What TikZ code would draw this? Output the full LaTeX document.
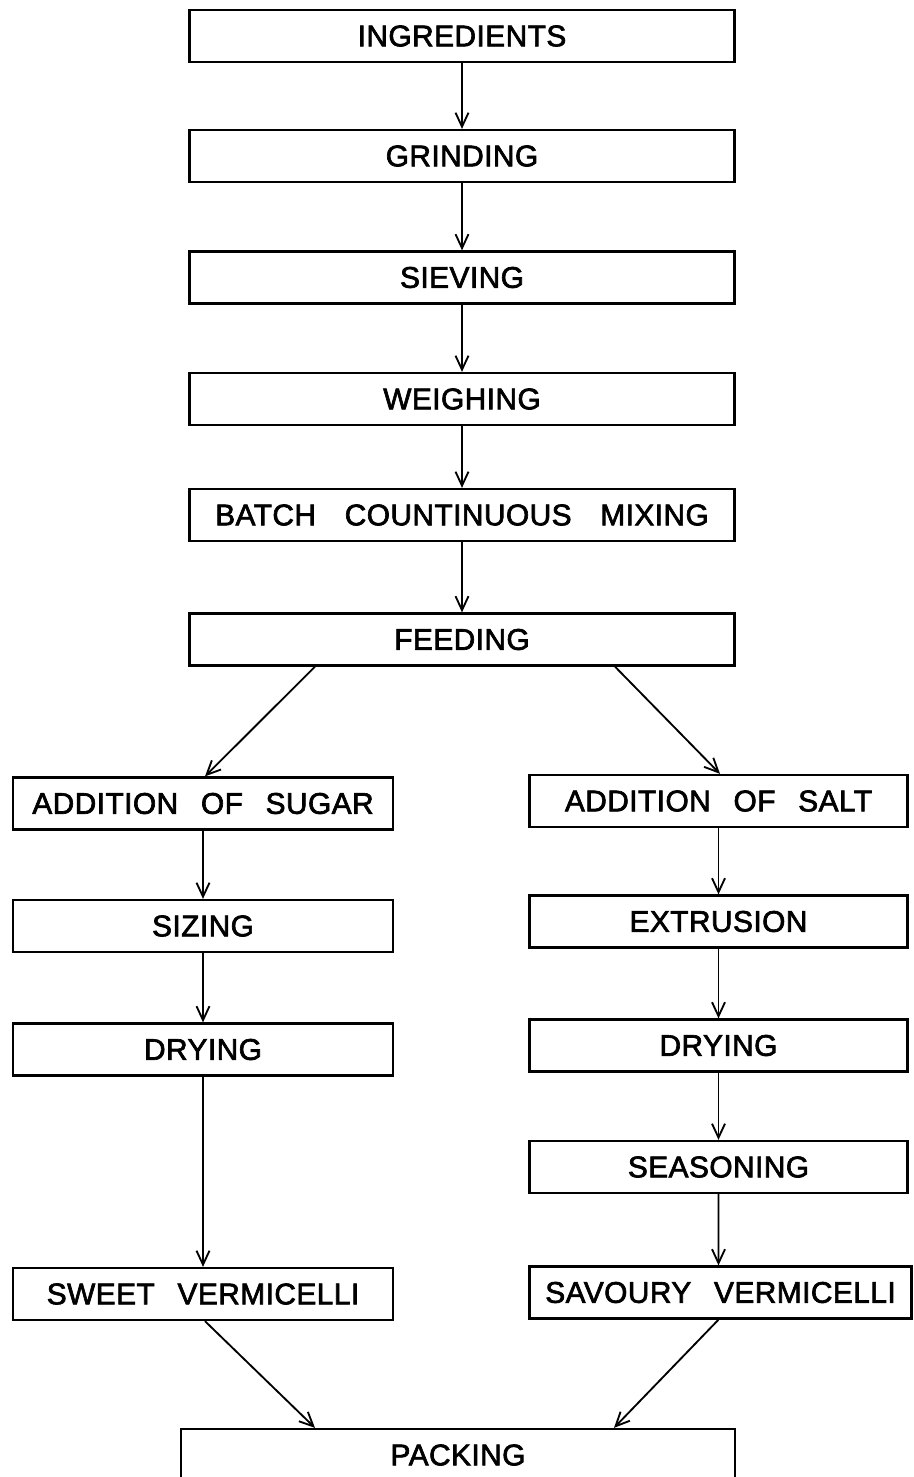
\documentclass[tikz,border=0pt]{standalone}
\usepackage{fontspec}
\setmainfont{Liberation Sans}[WordSpace=2.6,FakeBold=2.2,LetterSpace=1.5]
\usetikzlibrary{arrows.meta}
\tikzset{
  stage/.style={draw,line width=1.3pt,minimum height=1.04cm,inner sep=0pt,font=\fontsize{17}{20}\selectfont},
  wide/.style={stage,minimum width=10.9cm},
  half/.style={stage,minimum width=7.56cm},
  flow/.style={-{Straight Barb[length=2.8mm,width=2.6mm]},line width=1.05pt}
}
\begin{document}
\begin{tikzpicture}
    \useasboundingbox (0,0) rectangle (18.28,-29.54);
    \node[wide] (ingr) at (9.24,-0.72) {INGREDIENTS};
    \node[wide] (grind) at (9.24,-3.12) {GRINDING};
    \node[wide] (sieve) at (9.24,-5.55) {SIEVING};
    \node[wide] (weigh) at (9.24,-7.98) {WEIGHING};
    \node[wide] (batch) at (9.24,-10.3) {BATCH\hspace{0.2em} COUNTINUOUS\hspace{0.2em} MIXING};
    \node[wide] (feed) at (9.24,-12.79) {FEEDING};
    \node[half,minimum width=7.6cm] (sugar) at (4.06,-16.07) {ADDITION OF SUGAR};
    \node[half] (salt) at (14.37,-16.02) {ADDITION OF SALT};
    \node[half,minimum width=7.6cm] (size) at (4.06,-18.52) {SIZING};
    \node[half] (extr) at (14.37,-18.43) {EXTRUSION};
    \node[half,minimum width=7.6cm] (dryl) at (4.06,-20.99) {DRYING};
    \node[half] (dryr) at (14.37,-20.91) {DRYING};
    \node[half] (season) at (14.37,-23.34) {SEASONING};
    \node[half,minimum width=7.6cm] (sweet) at (4.06,-25.88) {SWEET VERMICELLI};
    \node[half,minimum width=7.64cm] (savoury) at (14.41,-25.85) {SAVOURY VERMICELLI};
    \node[wide,minimum width=11.08cm] (pack) at (9.16,-29.1) {PACKING};
    \draw[flow] (ingr) -- (grind);
    \draw[flow] (grind) -- (sieve);
    \draw[flow] (sieve) -- (weigh);
    \draw[flow] (weigh) -- (batch);
    \draw[flow] (batch) -- (feed);
    \draw[flow] ([xshift=-2.94cm]feed.south) -- ([xshift=0.04cm]sugar.north);
    \draw[flow] ([xshift=3.06cm]feed.south) -- ([xshift=0.03cm]salt.north);
    \draw[flow] (sugar) -- (size);
    \draw[flow] (size) -- (dryl);
    \draw[flow] (dryl) -- (sweet);
    \draw[flow] (salt) -- (extr);
    \draw[flow] (extr) -- (dryr);
    \draw[flow] (dryr) -- (season);
    \draw[flow] (season) -- ([xshift=-0.04cm]savoury.north);
    \draw[flow] ([xshift=0.04cm]sweet.south) -- ([xshift=-2.86cm]pack.north);
    \draw[flow] ([xshift=-0.04cm]savoury.south) -- ([xshift=3.12cm]pack.north);
\end{tikzpicture}
\end{document}
